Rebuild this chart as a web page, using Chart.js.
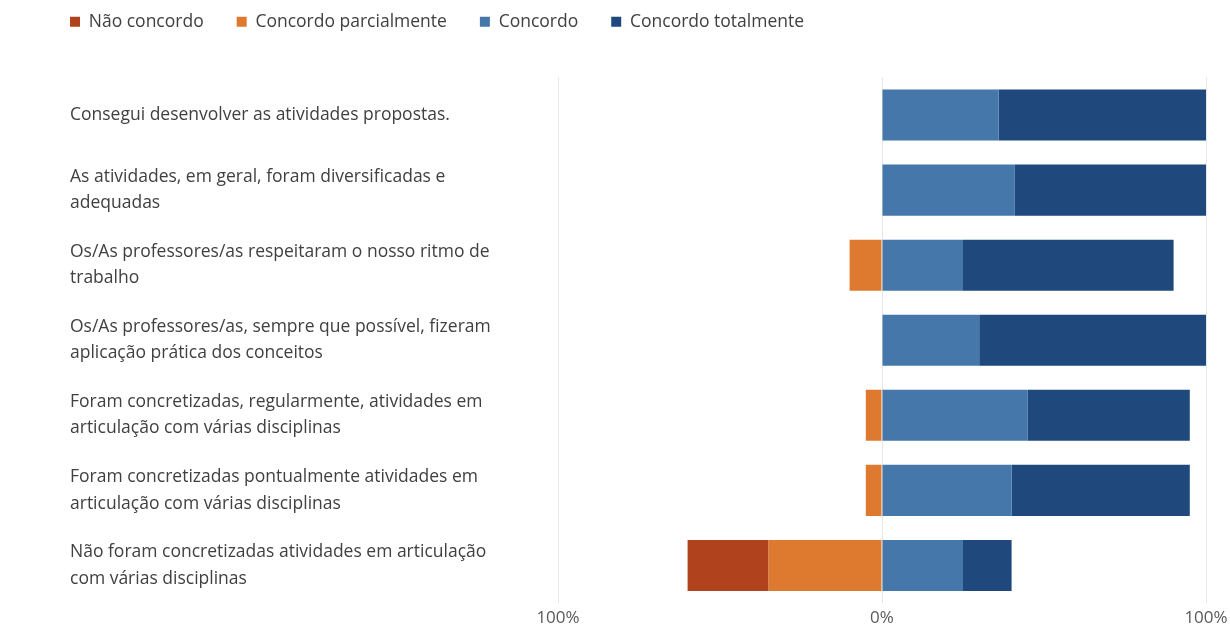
<!DOCTYPE html>
<html>
<head>
<meta charset="utf-8">
<script src="https://cdn.jsdelivr.net/npm/chart.js@4"></script>
<style>
  body { margin: 0; background: #fff; }
  #wrap { width: 1230px; height: 625px; }
</style>
</head>
<body>
<div id="wrap"><canvas id="myChart" width="1230" height="625"></canvas></div>
<script>
//data
const categories = [
    ["Consegui desenvolver as atividades propostas."],
    ["As atividades, em geral, foram diversificadas e", "adequadas"],
    ["Os/As professores/as respeitaram o nosso ritmo de", "trabalho"],
    ["Os/As professores/as, sempre que possível, fizeram", "aplicação prática dos conceitos"],
    ["Foram concretizadas, regularmente, atividades em", "articulação com várias disciplinas"],
    ["Foram concretizadas pontualmente atividades em", "articulação com várias disciplinas"],
    ["Não foram concretizadas atividades em articulação", "com várias disciplinas"]
];
// disagree values are negative so they go left of 0
const nao_concordo = [0, 0, 0, 0, 0, 0, -25];
const concordo_parcialmente = [0, 0, -10, 0, -5, -5, -35];
const concordo = [36, 41, 25, 30, 45, 40, 25];
const concordo_totalmente = [64, 59, 65, 70, 50, 55, 15];
const x_ticks = [-100, 0, 100];

const legendOrder = ["Não concordo", "Concordo parcialmente", "Concordo", "Concordo totalmente"];

//move legend to where it sits in the picture
const legendShift = {
    id: 'legendShift',
    afterLayout(chart) {
        chart.legend.left -= 33;
        chart.legend.top -= 37;
    }
};

//chart display
var ctx = document.getElementById('myChart').getContext('2d');
var chart = new Chart(ctx, {
    type: 'bar',
    data: {
        labels: categories,
        datasets: [
            { label: 'Concordo parcialmente', data: concordo_parcialmente, backgroundColor: 'rgb(222,122,48)' },
            { label: 'Não concordo', data: nao_concordo, backgroundColor: 'rgb(176,67,30)' },
            { label: 'Concordo', data: concordo, backgroundColor: 'rgb(69,119,170)' },
            { label: 'Concordo totalmente', data: concordo_totalmente, backgroundColor: 'rgb(31,73,124)' }
        ]
    },
    options: {
        indexAxis: 'y',
        responsive: false,
        animation: false,
        categoryPercentage: 0.68,
        barPercentage: 1,
        layout: { padding: { left: 70, right: 24, top: 17, bottom: 0 } },
        plugins: {
            tooltip: { enabled: false },
            legend: {
                position: 'top',
                align: 'start',
                labels: {
                    boxWidth: 10,
                    boxHeight: 10,
                    padding: 33,
                    color: '#404040',
                    font: { family: 'Open Sans', size: 17.5 },
                    sort: (a, b) => legendOrder.indexOf(a.text) - legendOrder.indexOf(b.text)
                }
            }
        },
        scales: {
            x: {
                stacked: true,
                min: -100,
                max: 100,
                afterBuildTicks: axis => { axis.ticks = x_ticks.map(v => ({ value: v })); },
                afterFit: axis => {
                    axis.height = 22;
                    axis.paddingLeft = 0;
                    axis.paddingRight = 0;
                },
                grid: { color: '#e6e6e6', drawTicks: false },
                border: { display: false },
                ticks: {
                    padding: 5,
                    color: '#595959',
                    font: { family: 'Open Sans', size: 17 },
                    callback: v => Math.abs(v) + '%'
                }
            },
            y: {
                stacked: true,
                afterFit: axis => { axis.width = 488; },
                grid: { display: false },
                border: { display: false },
                ticks: {
                    crossAlign: 'far',
                    color: '#404040',
                    font: { family: 'Open Sans', size: 17.5, lineHeight: 1.5 }
                }
            }
        }
    },
    plugins: [legendShift]
});
</script>
</body>
</html>
